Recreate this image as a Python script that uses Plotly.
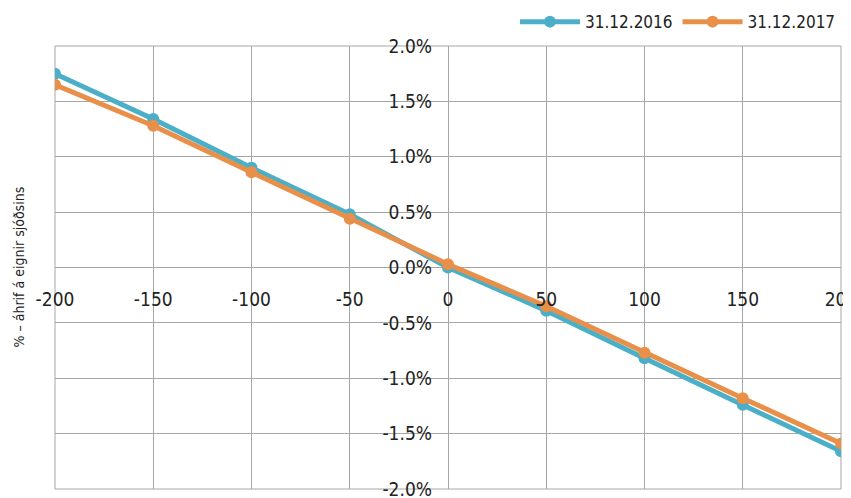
import plotly.graph_objects as go

x_vals = [-200, -150, -100, -50, 0, 50, 100, 150, 200]
s2016 = [1.75, 1.34, 0.90, 0.48, 0.00, -0.39, -0.82, -1.24, -1.66]
s2017 = [1.65, 1.28, 0.86, 0.44, 0.03, -0.35, -0.77, -1.18, -1.59]
names = ["31.12.2016", "31.12.2017"]
colors = ["#4BAFC8", "#E8904A"]
x_ticks = [-200, -150, -100, -50, 0, 50, 100, 150, 200]
x_ticktext = [str(v) for v in x_ticks]
y_ticks = [2.0, 1.5, 1.0, 0.5, 0.0, -0.5, -1.0, -1.5, -2.0]
y_ticktext = [f"{v:.1f}%" for v in y_ticks]
y_title = "% – áhrif á eignir sjóðsins"

FONT = "DejaVu Sans Condensed, sans-serif"
GRID = "#A6A6A6"

fig = go.Figure()
for name, ys, c in zip(names, [s2016, s2017], colors):
    fig.add_trace(go.Scatter(
        x=x_vals, y=ys, name=name, mode="lines+markers",
        line=dict(color=c, width=5),
        marker=dict(color=c, size=12),
    ))

# page body has an 8px default margin, so the figure is sized to fit inside
fig.update_layout(
    width=843, height=490,
    margin=dict(l=47, r=10, t=38, b=9, autoexpand=False),
    paper_bgcolor="white", plot_bgcolor="white",
    font=dict(family=FONT, size=18, color="#222222"),
    showlegend=True,
    legend=dict(orientation="h", x=1.0, xanchor="right", y=1.054, yanchor="middle",
                font=dict(size=17), itemwidth=60,
                bgcolor="rgba(0,0,0,0)", traceorder="normal"),
    xaxis=dict(range=[-200, 200], tickvals=x_ticks, ticktext=x_ticktext,
               showgrid=True, gridcolor=GRID,
               gridwidth=1, zeroline=True, zerolinecolor=GRID, zerolinewidth=1,
               anchor="free", position=0.5, showline=False, ticks="",
               ticklabelstandoff=18, ticklabeloverflow="allow",
               tickfont=dict(size=19)),
    yaxis=dict(range=[-2, 2], tickvals=y_ticks, ticktext=y_ticktext, showgrid=True,
               gridcolor=GRID, gridwidth=1, zeroline=True, zerolinecolor=GRID,
               zerolinewidth=1, anchor="free", position=0.5, showline=False,
               ticks="", ticklabelstandoff=16, ticklabeloverflow="allow",
               tickfont=dict(size=19)),
    shapes=[dict(type="rect", xref="paper", yref="paper", x0=0, x1=1, y0=0, y1=1,
                 line=dict(color=GRID, width=1), layer="below")],
    annotations=[dict(text=y_title, xref="paper", yref="paper", x=-0.047, y=0.5,
                      xanchor="center", yanchor="middle", textangle=-90,
                      showarrow=False, font=dict(size=14, family=FONT))],
)

fig.write_html("out.html")
